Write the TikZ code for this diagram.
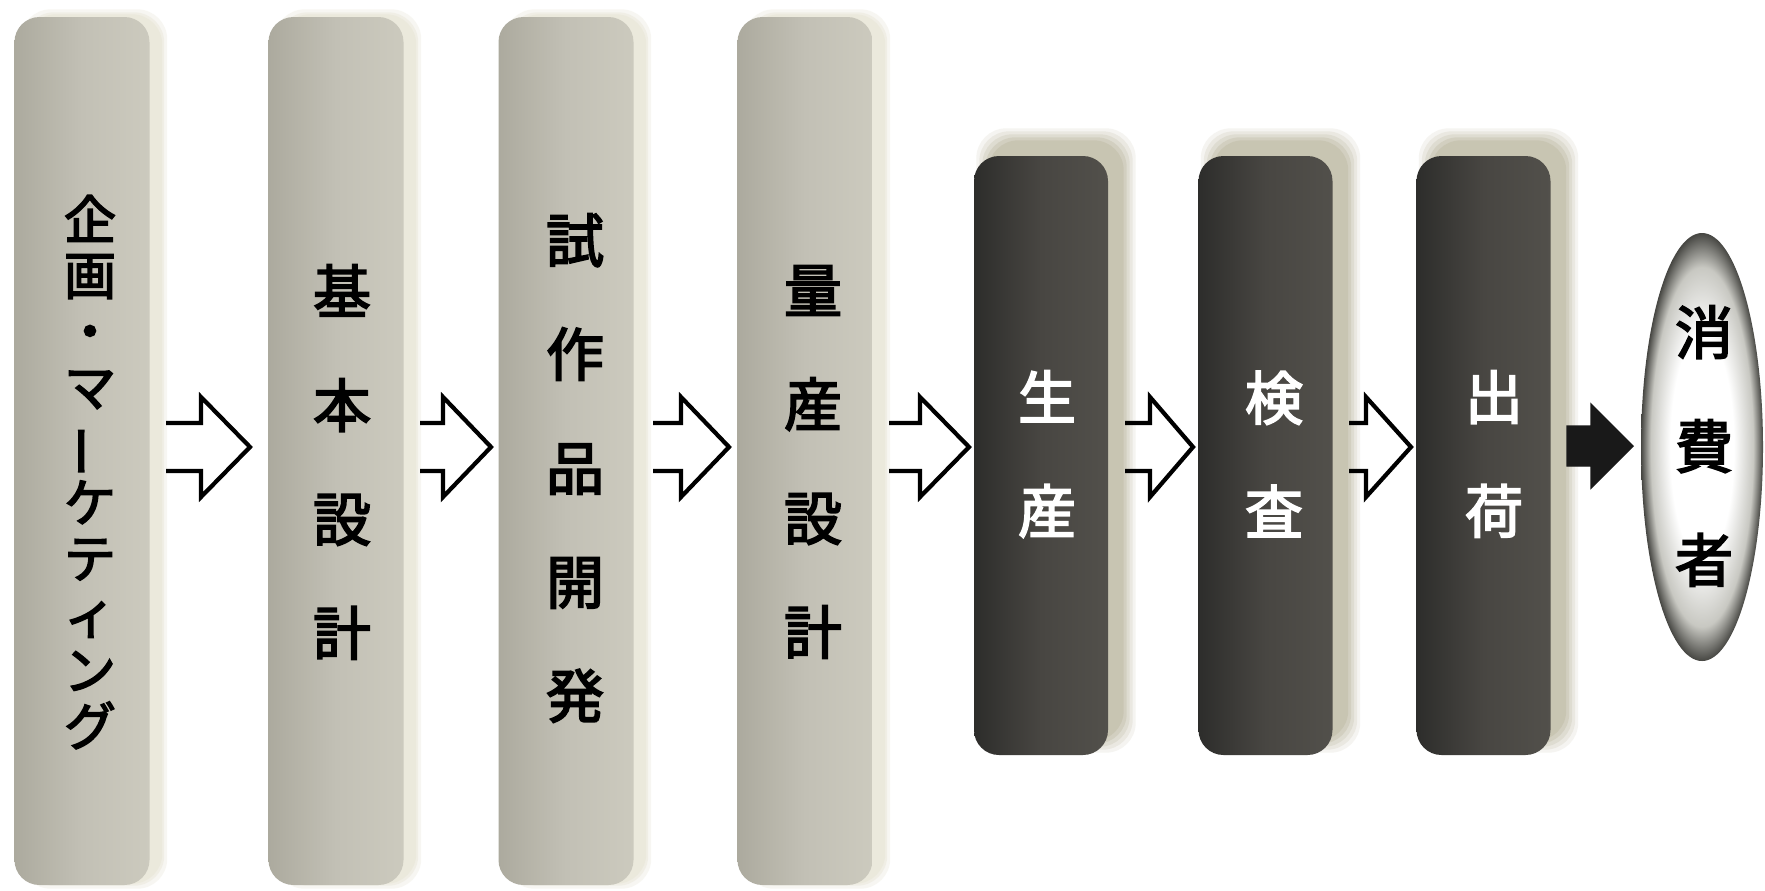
\documentclass[tikz,border=0pt]{standalone}
\usepackage{fontspec}
\newfontfamily\jp{Noto Sans CJK JP}[FakeBold=3]
\usetikzlibrary{shapes.geometric,calc}
\definecolor{lightL}{RGB}{172,170,158}
\definecolor{lightM}{RGB}{194,192,181}
\definecolor{lightR}{RGB}{204,202,190}
\definecolor{lightHi}{RGB}{234,232,218}
\definecolor{darkL}{RGB}{45,45,43}
\definecolor{darkM}{RGB}{72,70,66}
\definecolor{darkR}{RGB}{82,80,75}
\definecolor{haloC}{RGB}{190,185,162}
\definecolor{pillmid}{RGB}{200,200,194}
\definecolor{pilledge}{RGB}{70,70,66}
\pgfdeclareradialshading{pill}{\pgfpoint{0bp}{0bp}}{color(0bp)=(white); color(13bp)=(white); color(21bp)=(pillmid); color(25bp)=(pilledge); color(50bp)=(pilledge)}
\pgfdeclarelayer{bg}
\pgfsetlayers{bg,main}
\tikzset{
  lightbox/.style={rectangle, rounded corners=2.5mm, minimum width=13.5mm, minimum height=86.8mm, inner sep=0pt,
    left color=lightL, right color=lightR, middle color=lightM},
  darkbox/.style={rectangle, rounded corners=2.5mm, minimum width=13.4mm, minimum height=59.9mm, inner sep=0pt,
    left color=darkL, right color=darkR, middle color=darkM},
  pill/.style={ellipse, minimum width=12.2mm, minimum height=42.8mm, inner sep=0pt, shading=pill},
  vtext/.style={align=center, inner sep=0pt, font=\jp\fontsize{16.5}{32.4}\selectfont},
  vtight/.style={align=center, inner sep=0pt, font=\jp\fontsize{14.8}{15.9}\selectfont},
  hollowarr/.style={draw=black, line width=1.2pt, line join=miter},
  solidarr/.style={fill=black!90, draw=black!90, line width=0.4pt, line join=miter},
}
\newcommand\hollowarrow[3]{%
  \draw[hollowarr] let \p1=(#1), \p2=(#2) in
    (\x1,\y1+2.4mm) -- (\x2-#3,\y1+2.4mm) -- (\x2-#3,\y1+5mm) -- (\x2,\y2)
    -- (\x2-#3,\y1-5mm) -- (\x2-#3,\y1-2.4mm) -- (\x1,\y1-2.4mm);}
\newcommand\solidarrow[3]{%
  \filldraw[solidarr] let \p1=(#1), \p2=(#2) in
    (\x1,\y1+2mm) -- (\x2-#3,\y1+2mm) -- (\x2-#3,\y1+4.2mm) -- (\x2,\y2)
    -- (\x2-#3,\y1-4.2mm) -- (\x2-#3,\y1-2mm) -- (\x1,\y1-2mm) -- cycle;}
\begin{document}
\begin{tikzpicture}[x=0.1mm,y=-0.1mm]
\useasboundingbox (0,0) rectangle (1765,890);
\begin{pgfonlayer}{bg}
  \fill[white] (0,0) rectangle (1765,890);
\end{pgfonlayer}

% light boxes
\node[lightbox] (b1) at (82,451) {};
\node[lightbox] (b2) at (336,451) {};
\node[lightbox] (b3) at (566,451) {};
\node[lightbox] (b4) at (805,451) {};
% dark boxes
\node[darkbox] (b5) at (1041,455.5) {};
\node[darkbox] (b6) at (1265.5,455.5) {};
\node[darkbox] (b7) at (1483.5,455.5) {};
% consumer
\node[pill] (c) at (1702,447) {};

\begin{pgfonlayer}{bg}
  \foreach \n in {b1,b2,b3,b4}{
    \foreach \e/\o in {0.5/0.35,0.2/0.5,0/0.8}{
      \fill[lightHi, opacity=\o, rounded corners=3mm]
        ([shift={({(1.2-\e)*1mm},{(0.2-\e)*1mm})}]\n.south west) rectangle
        ([shift={({(1.2+\e)*1mm},{(0.2+\e)*1mm})}]\n.north east);
    }
  }
  \foreach \n in {b5,b6,b7}{
    \foreach \e/\o in {1.2/0.15,0.9/0.2,0.6/0.25,0.3/0.35,0/0.45}{
      \fill[haloC, opacity=\o, rounded corners=3mm]
        ([shift={({(1.5-\e)*1mm},{(1.5-\e)*1mm})}]\n.south west) rectangle
        ([shift={({(1.5+\e)*1mm},{(1.5+\e)*1mm})}]\n.north east);
    }
  }
\end{pgfonlayer}

% texts
\node[vtight] (t1) at (90,472) {企\\画\\・\\マ\\\rotatebox[origin=c]{90}{ー}\\ケ\\テ\\ィ\\ン\\グ};
\node[vtext] (t2) at (342,462) {基\\本\\設\\計};
\node[vtext] (t3) at (575,468) {試\\作\\品\\開\\発};
\node[vtext] (t4) at (813,462) {量\\産\\設\\計};
\node[vtext, text=white] (t5) at (1047,454) {生\\産};
\node[vtext, text=white] (t6) at (1274,454) {検\\査};
\node[vtext, text=white] (t7) at (1494,454) {出\\荷};
\node[vtext] (t8) at (1704,446) {消\\費\\者};

% arrows
\coordinate (a1s) at (166,447);  \coordinate (a1t) at (250,447);
\coordinate (a2s) at (420,447);  \coordinate (a2t) at (491,447);
\coordinate (a3s) at (653,447);  \coordinate (a3t) at (729,447);
\coordinate (a4s) at (889,447);  \coordinate (a4t) at (969,447);
\coordinate (a5s) at (1125,447); \coordinate (a5t) at (1193,447);
\coordinate (a6s) at (1349,447); \coordinate (a6t) at (1411,447);
\coordinate (a7s) at (1567,446); \coordinate (a7t) at (1633,446);
\hollowarrow{a1s}{a1t}{4.9mm}
\hollowarrow{a2s}{a2t}{4.8mm}
\hollowarrow{a3s}{a3t}{4.8mm}
\hollowarrow{a4s}{a4t}{4.9mm}
\hollowarrow{a5s}{a5t}{4.3mm}
\hollowarrow{a6s}{a6t}{4.5mm}
\solidarrow{a7s}{a7t}{4.2mm}
\end{tikzpicture}
\end{document}
